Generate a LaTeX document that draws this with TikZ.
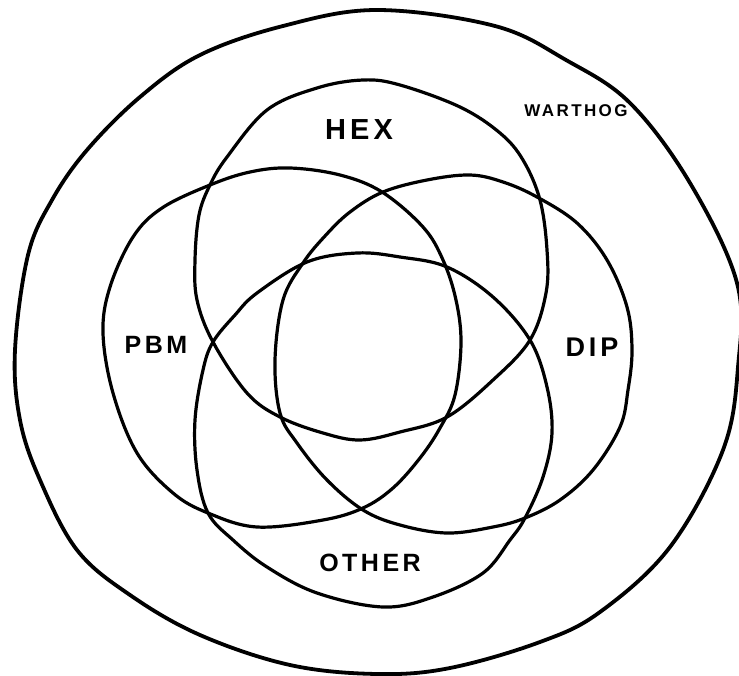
\documentclass[tikz,border=0pt]{standalone}
\usepackage{fontspec}
\newfontfamily\lbl[LetterSpace=14]{Liberation Sans}
\begin{document}
\begin{tikzpicture}[x=1pt,y=-1pt,
  ring/.style={line width=3.2pt,line join=round},
  outerring/.style={line width=3.8pt,line join=round},
  tag/.style={inner sep=0pt}]
\useasboundingbox (0,0) rectangle (739,675);
% outer set (WARTHOG)
\draw[outerring] plot[smooth cycle,tension=0.6] coordinates {
 (377,10) (495,26) (566,60) (630,103) (690,183) (737,283) (738,367) (723,450)
 (670,547) (600,612) (540,642) (450,668) (377,674) (290,665) (200,635) (130,595)
 (77,550) (40,480) (20,420) (15,350) (28,255) (52,200) (87,150) (140,97) (200,55) (283,26)};
% HEX
\draw[ring] plot[smooth cycle,tension=0.6] coordinates {
 (363,80) (400,85) (460,107) (500,133) (523,160) (540,200) (547,250) (546,293)
 (530,340) (493,380) (447,417) (400,432) (360,440) (323,433) (280,417) (247,393)
 (213,342) (197,300) (195,260) (199,215) (210,185) (227,157) (267,110) (317,88)};
% PBM
\draw[ring] plot[smooth cycle,tension=0.6] coordinates {
 (290,168) (340,175) (382,192) (423,227) (443,260) (456,300) (461,343) (455,395)
 (440,428) (420,458) (393,488) (363,508) (323,520) (257,527) (208,513) (173,493)
 (137,453) (113,393) (103,333) (110,287) (133,237) (162,208) (210,185) (250,172)};
% DIP
\draw[ring] plot[smooth cycle,tension=0.6] coordinates {
 (470,175) (503,182) (537,197) (577,223) (607,260) (627,307) (632,350) (628,390)
 (620,427) (593,470) (560,500) (525,518) (493,527) (447,533) (400,525) (363,510)
 (327,480) (297,443) (280,413) (275,360) (283,300) (303,263) (325,236) (350,212)
 (383,192) (427,180)};
% OTHER
\draw[ring] plot[smooth cycle,tension=0.6] coordinates {
 (357,253) (400,257) (447,267) (493,297) (530,340) (547,387) (552,433) (543,477)
 (525,518) (510,540) (483,573) (433,597) (383,607) (317,593) (267,567) (233,540)
 (208,513) (197,470) (195,420) (203,370) (213,342) (235,315) (257,293) (307,262)};
% labels
\node[tag,font=\lbl\bfseries\fontsize{29}{29}\selectfont] (hex) at (359,130) {HEX};
\node[tag,font=\lbl\bfseries\fontsize{25}{25}\selectfont] (pbm) at (156,345) {PBM};
\node[tag,font=\lbl\bfseries\fontsize{27}{27}\selectfont] (dip) at (592,347) {DIP};
\node[tag,font=\lbl\bfseries\fontsize{25}{25}\selectfont] (other) at (370,563) {OTHER};
\node[tag,font=\lbl\bfseries\fontsize{17}{17}\selectfont] (warthog) at (576,111) {WARTHOG};
\end{tikzpicture}
\end{document}
